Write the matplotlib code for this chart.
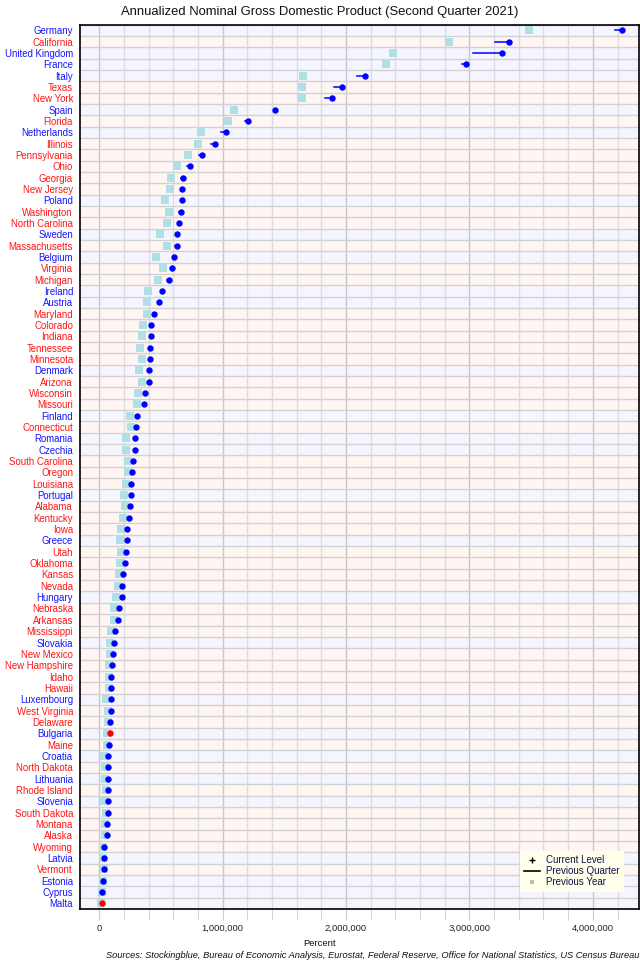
import matplotlib
matplotlib.use("Agg")
import matplotlib.pyplot as plt
from matplotlib.lines import Line2D
from matplotlib.ticker import FuncFormatter, MultipleLocator

plt.rcParams['font.family'] = ['Liberation Sans', 'DejaVu Sans']

names = ["Germany", "California", "United Kingdom", "France", "Italy", "Texas", "New York",
         "Spain", "Florida", "Netherlands", "Illinois", "Pennsylvania", "Ohio", "Georgia",
         "New Jersey", "Poland", "Washington", "North Carolina", "Sweden", "Massachusetts",
         "Belgium", "Virginia", "Michigan", "Ireland", "Austria", "Maryland", "Colorado",
         "Indiana", "Tennessee", "Minnesota", "Denmark", "Arizona", "Wisconsin", "Missouri",
         "Finland", "Connecticut", "Romania", "Czechia", "South Carolina", "Oregon",
         "Louisiana", "Portugal", "Alabama", "Kentucky", "Iowa", "Greece", "Utah", "Oklahoma",
         "Kansas", "Nevada", "Hungary", "Nebraska", "Arkansas", "Mississippi", "Slovakia",
         "New Mexico", "New Hampshire", "Idaho", "Hawaii", "Luxembourg", "West Virginia",
         "Delaware", "Bulgaria", "Maine", "Croatia", "North Dakota", "Lithuania",
         "Rhode Island", "Slovenia", "South Dakota", "Montana", "Alaska", "Wyoming", "Latvia",
         "Vermont", "Estonia", "Cyprus", "Malta"]

countries = {"Germany", "United Kingdom", "France", "Italy", "Spain", "Netherlands", "Poland",
             "Sweden", "Belgium", "Ireland", "Austria", "Denmark", "Finland", "Romania",
             "Czechia", "Portugal", "Greece", "Hungary", "Slovakia", "Luxembourg", "Bulgaria",
             "Croatia", "Lithuania", "Slovenia", "Latvia", "Estonia", "Cyprus", "Malta"}

# values in millions of US dollars
current = [4237000, 3318000, 3265000, 2969000, 2150000, 1967000, 1886000, 1428000, 1207000,
           1029000, 939000, 835000, 737000, 680000, 672000, 672000, 664000, 648000, 631000,
           631000, 607000, 590000, 563000, 509000, 484000, 446000, 419000, 419000, 411000,
           411000, 403000, 403000, 370000, 362000, 305000, 297000, 289000, 289000, 272000,
           264000, 256000, 256000, 248000, 240000, 223000, 223000, 215000, 207000, 196000,
           188000, 188000, 158000, 150000, 125000, 117000, 109000, 100000, 92000, 92000,
           92000, 92000, 84000, 84000, 76000, 68000, 68000, 68000, 68000, 68000, 68000,
           60000, 60000, 41000, 41000, 41000, 33000, 25000, 19000]

prev_quarter = [4180000, 3207000, 3031000, 2943000, 2086000, 1900000, 1830000, 1418000, 1181000,
                990000, 906000, 811000, 713000, 662000, 660000, 664000, 645000, 636000, 624000,
                612000, 600000, 580000, 546000, 502000, 478000, 438000, 410000, 411000, 403000,
                403000, 398000, 395000, 363000, 355000, 301000, 292000, 285000, 284000, 266000,
                259000, 251000, 252000, 243000, 235000, 218000, 220000, 211000, 202000, 192000,
                183000, 185000, 155000, 147000, 123000, 115000, 107000, 98000, 90000, 90000,
                91000, 90000, 82000, 85000, 75000, 67000, 66000, 67000, 67000, 67000, 67000,
                59000, 59000, 40000, 40000, 40000, 32000, 24000, 20000]

prev_year = [3480000, 2834000, 2382000, 2323000, 1654000, 1645000, 1642000, 1090000, 1046000,
             824000, 800000, 718000, 631000, 582000, 577000, 531000, 566000, 550000, 490000,
             547000, 457000, 517000, 476000, 392000, 387000, 387000, 356000, 345000, 332000,
             348000, 324000, 348000, 313000, 305000, 250000, 256000, 220000, 220000, 229000,
             229000, 218000, 199000, 207000, 193000, 174000, 169000, 180000, 166000, 161000,
             153000, 136000, 117000, 117000, 92000, 90000, 84000, 79000, 76000, 76000,
             57000, 68000, 73000, 60000, 63000, 41000, 46000, 49000, 54000, 41000, 52000,
             46000, 44000, 33000, 33000, 35000, 27000, 19000, 11000]

x_ticks = [0, 1000000, 2000000, 3000000, 4000000]

fig = plt.figure(figsize=(6.4, 9.6), dpi=100)
ax = fig.add_axes([80 / 640, 1 - 909 / 960, 558.5 / 640, 884.5 / 960])

n = len(names)
for i, name in enumerate(names):
    band = '#F4F5FF' if name in countries else '#FFF5F3'
    ax.axhspan(i - 0.5, i + 0.5, color=band, zorder=0, lw=0)
for i in range(n + 1):
    ax.axhline(i - 0.5, color='#D2D2D2', lw=1, zorder=1)

ax.xaxis.set_major_locator(MultipleLocator(1000000))
ax.xaxis.set_minor_locator(MultipleLocator(200000))
ax.grid(which='minor', axis='x', color='#DDDDDD', lw=1, zorder=1)
ax.grid(which='major', axis='x', color='#C8C8C8', lw=1, zorder=1)
ax.set_axisbelow(True)

for i in range(n):
    col = 'red' if current[i] < prev_quarter[i] else '#0000FF'
    ax.plot(prev_year[i], i, marker='s', ms=6.2, color='#B0E0E6', mew=0, ls='none', zorder=2)
    ax.plot([prev_quarter[i], current[i]], [i, i], color=col, lw=1.1, zorder=3)
    ax.plot(current[i], i, marker='o', ms=4.6, color=col, mew=0, ls='none', zorder=4)

ax.set_xlim(-156000, 4370000)
ax.set_ylim(n - 0.5, -0.5)

ax.set_yticks(range(n))
ax.set_yticklabels(names, fontsize=6.9)
for lbl, name in zip(ax.get_yticklabels(), names):
    lbl.set_color('#1414FF' if name in countries else '#FF1414')
ax.tick_params(axis='y', length=0, pad=5)

ax.set_xticks(x_ticks)
ax.xaxis.set_major_formatter(FuncFormatter(lambda v, p: f"{int(v):,}"))
ax.tick_params(axis='x', which='both', length=8, color='#CCCCCC', labelsize=6.8, pad=3,
               labelcolor='#222222')

for s in ax.spines.values():
    s.set_color('black')
    s.set_linewidth(1.2)

fig.text(0.5, 1 - 12 / 960,
         "Annualized Nominal Gross Domestic Product (Second Quarter 2021)",
         ha='center', va='center', fontsize=9.4, color='#111111')
fig.text(0.5, 1 - 944 / 960, "Percent", ha='center', va='center', fontsize=6.8,
         color='#111111')
fig.text(639 / 640, 1 - 955.5 / 960,
         "Sources: Stockingblue, Bureau of Economic Analysis, Eurostat, Federal Reserve, "
         "Office for National Statistics, US Census Bureau",
         ha='right', va='center', fontsize=6.7, style='italic', color='#111111')

handles = [
    Line2D([], [], marker='+', color='black', ls='none', ms=4, mew=1),
    Line2D([], [], color='black', lw=1.2),
    Line2D([], [], marker='s', color='#BDBDBD', ls='none', ms=3.5, mew=0),
]
leg = ax.legend(handles, ["Current Level", "Previous Quarter", "Previous Year"],
                loc='lower right', bbox_to_anchor=(0.982, 0.014), fontsize=7,
                frameon=True, facecolor='#FFFFEC', edgecolor='none', framealpha=1,
                handlelength=1.6, handletextpad=0.6, borderpad=0.45, labelspacing=0.12,
                fancybox=False)
for t in leg.get_texts():
    t.set_color('#10104A')

fig.savefig("out.png", dpi=100)
